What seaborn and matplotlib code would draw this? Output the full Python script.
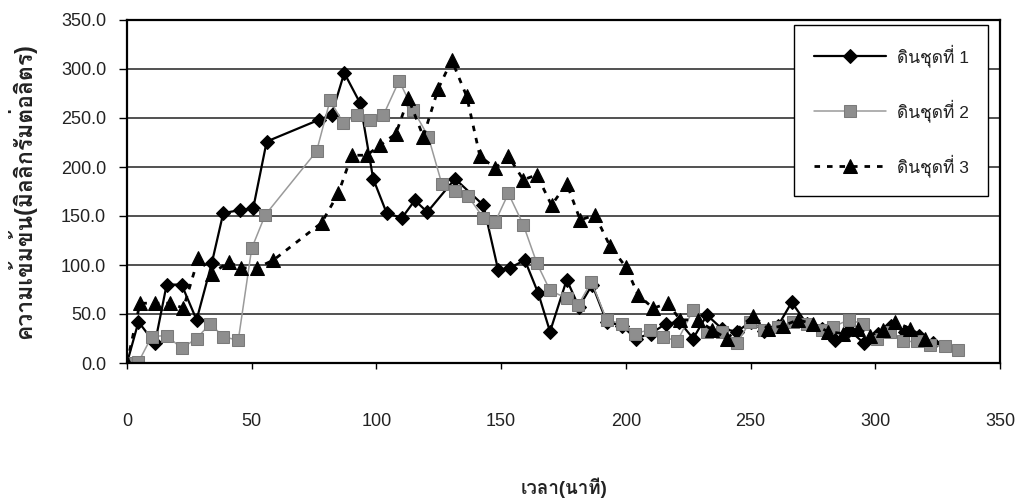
import matplotlib
matplotlib.use("Agg")
import matplotlib.pyplot as plt
import seaborn as sns
import pandas as pd
from matplotlib import font_manager, ft2font

# ---------------- data ----------------
s1_x = [0, 4.6, 11.2, 15.9, 21.9, 27.9, 34, 38.6, 45.3, 50.6, 56, 76.8, 82, 87.1, 93.5,
        98.7, 104.1, 110.2, 115.4, 120.4, 131.5, 142.9, 148.8, 153.5, 159.5, 164.9,
        169.6, 176.3, 181.2, 186.5, 192.3, 198.4, 204, 210, 216, 221.5, 227, 232.5,
        238.5, 244.5, 250, 255.5, 261, 266.5, 272.5, 278.5, 284, 289.5, 295.5, 301,
        306.5, 312, 317.5, 323]
s1_y = [0, 42, 20, 80, 80, 44, 102, 153, 156, 158, 226, 248, 253, 296, 265,
        188, 153, 148, 166, 154, 188, 161, 95, 97, 105, 71,
        32, 85, 57, 80, 42, 38, 25, 30, 40, 42, 25, 49,
        35, 32, 42, 33, 38, 62, 40, 35, 23, 34, 20, 30,
        38, 32, 28, 20]

s2_x = [0, 4.6, 9.9, 15.9, 21.9, 27.9, 33.3, 38.6, 44.6, 50, 55.4, 76, 81.4, 86.7, 92.1,
        97.4, 102.8, 109.1, 114.8, 120.8, 126.2, 131.5, 136.8, 142.9, 147.6, 152.9,
        158.9, 164.3, 169.6, 176.3, 180.9, 186.2, 192.3, 198.4, 203.6, 209.7, 215,
        220.6, 226.9, 232.4, 238.4, 244.4, 249.8, 255.2, 261.1, 267.2, 272.6, 278.5,
        283.2, 289.3, 295.2, 300.6, 306, 311.3, 316.6, 322, 328, 333.3]
s2_y = [0, 1, 27, 28, 15, 25, 40, 27, 23, 117, 151, 216, 268, 245, 253,
        248, 253, 288, 258, 231, 183, 175, 170, 148, 144, 173,
        141, 102, 74, 66, 59, 83, 44, 40, 30, 34, 27,
        22, 54, 32, 32, 20, 42, 34, 37, 42, 40, 34,
        37, 44, 40, 25, 32, 22, 22, 18, 17, 13]

s3_x = [0, 5.2, 11.2, 17.2, 22.6, 28.6, 34, 40.7, 45.9, 52, 58.7, 78, 84.7, 90.1, 96.1,
        101.4, 107.8, 112.8, 118.8, 124.8, 130.2, 136.2, 141.5, 147.6, 152.9, 158.9,
        164.3, 170.2, 176.3, 181.7, 187.6, 193.7, 200, 205, 211, 217, 221.7, 228.9,
        234.4, 240.5, 251, 257, 263, 269, 275, 281, 287, 293, 298, 303, 308, 314, 320]
s3_y = [0, 61, 61, 61, 56, 107, 91, 103, 97, 97, 105, 143, 173, 212, 212,
        222, 234, 270, 231, 280, 309, 272, 211, 199, 211, 187,
        192, 161, 183, 146, 151, 119, 98, 69, 56, 61, 44, 44,
        34, 25, 48, 35, 38, 44, 40, 32, 30, 35, 28, 34, 42, 35, 25]

labels = ["ดินชุดที่ 1", "ดินชุดที่ 2", "ดินชุดที่ 3"]
x_ticks = [0, 50, 100, 150, 200, 250, 300, 350]
y_ticks = [0, 50, 100, 150, 200, 250, 300, 350]
x_title = "เวลา(นาที)"
y_title = "ความเข้มข้น(มิลลิกรัมต่อลิตร)"

# ---------------- fonts ----------------
def find_thai():
    seen = set()
    for f in font_manager.fontManager.ttflist:
        if f.fname in seen:
            continue
        seen.add(f.fname)
        try:
            cm = ft2font.FT2Font(f.fname).get_charmap()
        except Exception:
            continue
        if 0x0E14 in cm and 0x0E35 in cm and 0x0E19 in cm:
            return f.name
    return "DejaVu Sans"

thai = find_thai()

sns.set_theme(style="white")
plt.rcParams["font.family"] = ["Liberation Sans", thai, "DejaVu Sans"]
fam = ["Liberation Sans", thai, "DejaVu Sans"]

df1 = pd.DataFrame({"x": s1_x, "y": s1_y})
df2 = pd.DataFrame({"x": s2_x, "y": s2_y})
df3 = pd.DataFrame({"x": s3_x, "y": s3_y})

fig = plt.figure(figsize=(10.21, 5.0), dpi=100)
ax = fig.add_axes([127 / 1021, 137 / 500, 873 / 1021, 343 / 500])
ax.set_facecolor("white")

ax.yaxis.grid(True, color="#222222", linewidth=1.1)
ax.set_axisbelow(True)

sns.lineplot(data=df1, x="x", y="y", ax=ax, sort=False, estimator=None,
             color="black", linewidth=1.6, marker="D", markersize=7.5,
             markerfacecolor="black", markeredgecolor="black", label=labels[0])
sns.lineplot(data=df2, x="x", y="y", ax=ax, sort=False, estimator=None,
             color="#9a9a9a", linewidth=1.1, marker="s", markersize=8,
             markerfacecolor="#8e8e8e", markeredgecolor="#7a7a7a", label=labels[1])
sns.lineplot(data=df3, x="x", y="y", ax=ax, sort=False, estimator=None,
             color="black", linewidth=2.0, marker="^", markersize=9.5,
             markerfacecolor="black", markeredgecolor="black", label=labels[2])
ax.lines[-1].set_dashes((2.0, 2.5))

ax.set_xlim(0, 350)
ax.set_ylim(0, 350)
ax.set_xticks(x_ticks)
ax.set_xticklabels([str(v) for v in x_ticks])
ax.set_yticks(y_ticks)
ax.set_yticklabels([f"{v:.1f}" for v in y_ticks])

for s in ax.spines.values():
    s.set_visible(True)
    s.set_color("black")
    s.set_linewidth(1.6)

ax.tick_params(axis="x", direction="out", length=4, width=1, color="black",
               pad=32, labelsize=13, labelcolor="#222222", bottom=True)
ax.tick_params(axis="y", direction="out", length=6, width=1, color="black",
               pad=9, labelsize=13, labelcolor="#222222", left=True)

ax.set_xlabel(x_title, fontsize=13.5, fontweight="bold", family=fam, color="#222222", va="center")
ax.set_ylabel(y_title, fontsize=16.5, fontweight="bold", family=fam, color="#222222", va="center")
ax.xaxis.set_label_coords(0.5, (363 - 488) / 343)
ax.yaxis.set_label_coords((22 - 127) / 873, 0.5)

leg = ax.legend(loc="upper right", bbox_to_anchor=(988 / 1021, 1 - 25 / 500),
                bbox_transform=fig.transFigure, borderaxespad=0,
                frameon=True, fancybox=False, framealpha=1, edgecolor="black",
                handlelength=4.2, handletextpad=0.6,
                labelspacing=1.85, borderpad=1.1, prop={"family": fam, "size": 12.5})
leg.get_frame().set_linewidth(1.0)
for t in leg.get_texts():
    t.set_color("#222222")

fig.savefig("out.png", dpi=100, facecolor="white")
